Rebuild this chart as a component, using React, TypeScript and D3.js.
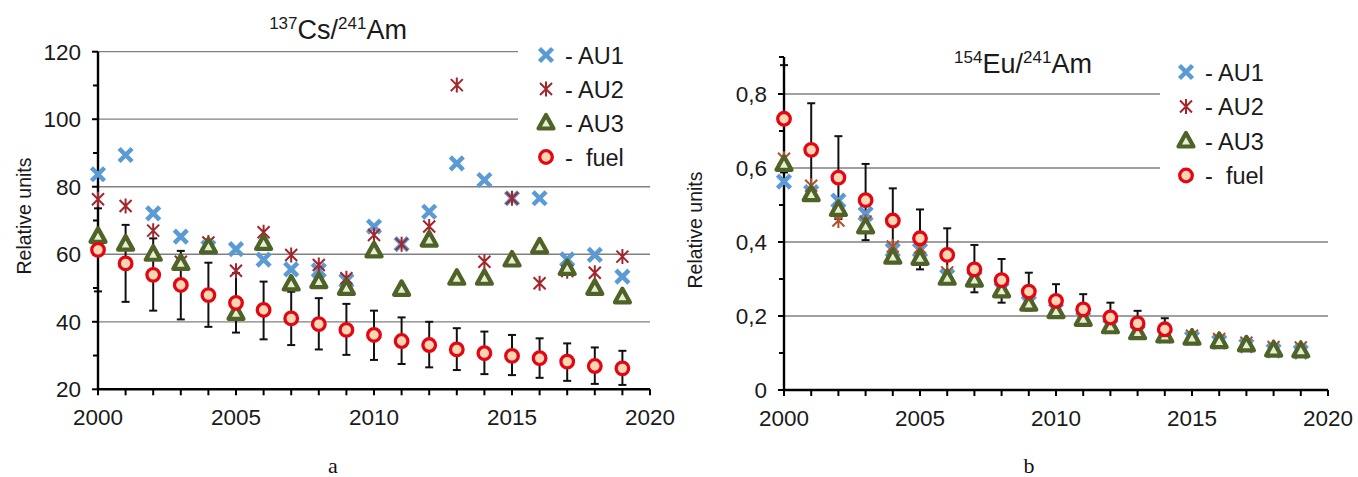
import React from "react";
import * as d3 from "d3";

const years = [2000, 2001, 2002, 2003, 2004, 2005, 2006, 2007, 2008, 2009, 2010, 2011, 2012, 2013, 2014, 2015, 2016, 2017, 2018, 2019];

// Panel a: 137Cs/241Am
const csAU1 = [83.7, 89.4, 72.1, 65.2, 62.0, 61.5, 58.4, 55.5, 55.2, 52.2, 68.2, 63.0, 72.6, 86.9, 82.0, 76.6, 76.6, 58.5, 59.8, 53.4];
const csAU2 = [76.3, 74.3, 67.0, 57.8, 63.5, 55.1, 66.5, 59.8, 56.8, 52.9, 65.7, 63.0, 68.2, 110.1, 57.8, 76.6, 51.4, 55.0, 54.5, 59.3];
const csAU3 = [65.3, 63.0, 60.0, 57.3, 62.2, 42.5, 63.2, 51.2, 51.9, 49.9, 61.0, 49.6, 64.2, 52.9, 52.9, 58.3, 62.2, 55.8, 49.9, 47.4];
const csFuel = [61.3, 57.3, 53.9, 50.9, 47.9, 45.6, 43.5, 41.0, 39.3, 37.6, 36.1, 34.3, 33.1, 31.8, 30.7, 29.9, 29.2, 28.2, 26.9, 26.2];
const csFuelHi = [73.6, 68.7, 64.7, 61.0, 57.5, 54.4, 51.9, 48.9, 47.0, 45.3, 43.3, 41.3, 40.0, 38.1, 37.1, 36.1, 35.1, 33.6, 32.4, 31.4];
const csFuelLo = [49.0, 45.9, 43.3, 40.7, 38.5, 36.8, 34.8, 33.1, 31.8, 30.2, 28.7, 27.5, 26.5, 25.7, 24.5, 24.2, 23.4, 22.5, 21.6, 21.3];
const csMajorTicks = [20, 40, 60, 80, 100, 120];
const csMinorTicks = [30, 50, 70, 90, 110];
const csGridFull = [40, 60, 80];
const csGridShort = [100, 120];

// Panel b: 154Eu/241Am
const euAU1 = [0.563, 0.535, 0.512, 0.476, 0.378, 0.378, 0.308, 0.302, 0.272, 0.236, 0.216, 0.193, 0.172, 0.156, 0.146, 0.140, 0.130, 0.120, 0.106, 0.103];
const euAU2 = [0.625, 0.552, 0.458, 0.455, 0.388, 0.385, 0.318, 0.310, 0.282, 0.245, 0.225, 0.200, 0.180, 0.163, 0.154, 0.147, 0.138, 0.128, 0.116, 0.115];
const euAU3 = [0.610, 0.528, 0.488, 0.441, 0.359, 0.356, 0.302, 0.297, 0.268, 0.232, 0.212, 0.191, 0.171, 0.155, 0.146, 0.140, 0.131, 0.122, 0.108, 0.106];
const euFuel = [0.733, 0.649, 0.574, 0.513, 0.458, 0.410, 0.365, 0.326, 0.297, 0.266, 0.241, 0.218, 0.196, 0.180, 0.164];
const euFuelHi = [0.878, 0.775, 0.686, 0.611, 0.545, 0.488, 0.437, 0.392, 0.354, 0.317, 0.286, 0.259, 0.236, 0.214, 0.194];
const euFuelLo = [0.588, 0.523, 0.462, 0.405, 0.371, 0.326, 0.293, 0.264, 0.236, 0.215, 0.196, 0.177, 0.156, 0.146, 0.131];
const euMajorTicks = [0, 0.2, 0.4, 0.6, 0.8];
const euMinorTicks = [0.1, 0.3, 0.5, 0.7, 0.9];
const euGridFull = [0.2, 0.4];
const euGridShort = [0.6, 0.8];

const xTickLabels = [2000, 2005, 2010, 2015, 2020];
const legendLabels = ["AU1", "AU2", "AU3", " fuel"];

const FONT = "'Liberation Sans', Arial, sans-serif";
const C_AU1 = "#5b9bd5";
const C_AU2 = "#a3262c";
const C_AU2b = "#b0502c";
const C_AU3S = "#4f6228";
const C_AU3F = "#e6efd2";
const C_FUELS = "#e30613";
const C_FUELF = "#fcd5b4";

type Mk = { x: number; y: number; color?: string };

const XMark = ({ x, y, color }: Mk) => (
  <path d={`M${x - 6.5},${y - 6.5}L${x + 6.5},${y + 6.5}M${x - 6.5},${y + 6.5}L${x + 6.5},${y - 6.5}`} stroke={color || C_AU1} strokeWidth={4.5} fill="none" />
);
const Star = ({ x, y, color }: Mk) => (
  <path d={`M${x - 6},${y - 6}L${x + 6},${y + 6}M${x - 6},${y + 6}L${x + 6},${y - 6}M${x},${y - 7.5}L${x},${y + 7.5}`} stroke={color || C_AU2} strokeWidth={2} fill="none" />
);
const Tri = ({ x, y }: Mk) => (
  <path d={`M${x},${y - 8}L${x + 7.5},${y + 5.5}L${x - 7.5},${y + 5.5}Z`} stroke={C_AU3S} strokeWidth={4.2} strokeLinejoin="round" fill={C_AU3F} />
);
const Circ = ({ x, y }: Mk) => (
  <circle cx={x} cy={y} r={6.3} stroke={C_FUELS} strokeWidth={3.3} fill={C_FUELF} />
);

type PanelProps = {
  x0: number; x1: number; yTop: number; yBot: number; yMin: number; yMax: number; axisTop: number;
  au1: number[]; au2: number[]; au3: number[]; fuel: number[]; hi: number[]; lo: number[];
  major: number[]; minor: number[]; gridFull: number[]; gridShort: number[]; gridShortEnd: number;
  fmt: (v: number) => string; au2Color: string;
  legendX: number; legendY: number; legendStep: number; legendRect: [number, number, number, number];
  titleX: number; titleY: number; sup1: string; el1: string; sup2: string; el2: string;
  ylabX: number; ylabY: number; panelLabel: string; panelLabelX: number;
};

function Panel(p: PanelProps) {
  const x = d3.scaleLinear().domain([2000, 2020]).range([p.x0, p.x1]);
  const y = d3.scaleLinear().domain([p.yMin, p.yMax]).range([p.yBot, p.yTop]);
  const yearTicks = d3.range(2000, 2021);
  return (
    <g>
      {p.gridFull.map((v) => (
        <line key={"gf" + v} x1={p.x0} x2={p.x1} y1={y(v)} y2={y(v)} stroke="#808080" strokeWidth={1.3} />
      ))}
      {p.gridShort.map((v) => (
        <line key={"gs" + v} x1={p.x0} x2={p.gridShortEnd} y1={y(v)} y2={y(v)} stroke="#808080" strokeWidth={1.3} />
      ))}
      {p.fuel.map((v, i) => (
        <g key={"eb" + i} stroke="#111" strokeWidth={2}>
          <line x1={x(years[i])} x2={x(years[i])} y1={y(p.hi[i])} y2={y(p.lo[i])} />
          <line x1={x(years[i]) - 4} x2={x(years[i]) + 4} y1={y(p.hi[i])} y2={y(p.hi[i])} />
          <line x1={x(years[i]) - 4} x2={x(years[i]) + 4} y1={y(p.lo[i])} y2={y(p.lo[i])} />
        </g>
      ))}
      <line x1={p.x0} x2={p.x0} y1={y(p.axisTop)} y2={p.yBot} stroke="#000" strokeWidth={2.4} />
      <line x1={p.x0} x2={p.x1} y1={p.yBot} y2={p.yBot} stroke="#000" strokeWidth={2.4} />
      {p.major.map((v) => (
        <line key={"mj" + v} x1={p.x0 - 6} x2={p.x0} y1={y(v)} y2={y(v)} stroke="#000" strokeWidth={2} />
      ))}
      {p.minor.map((v) => (
        <line key={"mn" + v} x1={p.x0 - 5} x2={p.x0} y1={y(v)} y2={y(v)} stroke="#000" strokeWidth={2} />
      ))}
      {yearTicks.map((t) => (
        <line key={"xt" + t} x1={x(t)} x2={x(t)} y1={p.yBot} y2={p.yBot + 6} stroke="#000" strokeWidth={2} />
      ))}
      {p.major.map((v) => (
        <text key={"yl" + v} x={p.x0 - 17} y={y(v) + 8} textAnchor="end" fontFamily={FONT} fontSize={22.5} fill="#1a1a1a">{p.fmt(v)}</text>
      ))}
      {xTickLabels.map((t) => (
        <text key={"xl" + t} x={x(t)} y={p.yBot + 36} textAnchor="middle" fontFamily={FONT} fontSize={22.5} fill="#1a1a1a">{t}</text>
      ))}
      {p.au1.map((v, i) => <XMark key={"a1" + i} x={x(years[i])} y={y(v)} />)}
      {p.au2.map((v, i) => <Star key={"a2" + i} x={x(years[i])} y={y(v)} color={p.au2Color} />)}
      {p.au3.map((v, i) => <Tri key={"a3" + i} x={x(years[i])} y={y(v)} />)}
      {p.fuel.map((v, i) => <Circ key={"fu" + i} x={x(years[i])} y={y(v)} />)}
      <rect x={p.legendRect[0]} y={p.legendRect[1]} width={p.legendRect[2]} height={p.legendRect[3]} fill="#fff" />
      {legendLabels.map((lab, i) => {
        const ly = p.legendY + i * p.legendStep;
        const lx = p.legendX;
        return (
          <g key={"lg" + i}>
            {i === 0 && <XMark x={lx} y={ly} />}
            {i === 1 && <Star x={lx} y={ly} />}
            {i === 2 && <Tri x={lx} y={ly} />}
            {i === 3 && <Circ x={lx} y={ly} />}
            <text x={lx + 19} y={ly + 8.5} fontFamily={FONT} fontSize={23.5} fill="#1a1a1a" style={{ whiteSpace: "pre" }}>{"- " + lab}</text>
          </g>
        );
      })}
      <text x={p.titleX} y={p.titleY} textAnchor="middle" fontFamily={FONT} fill="#1a1a1a">
        <tspan fontSize={17} dy={-10}>{p.sup1}</tspan>
        <tspan fontSize={27} dy={10}>{p.el1}</tspan>
        <tspan fontSize={17} dy={-10}>{p.sup2}</tspan>
        <tspan fontSize={27} dy={10}>{p.el2}</tspan>
      </text>
      <text transform={`translate(${p.ylabX},${p.ylabY}) rotate(-90)`} textAnchor="middle" fontFamily={FONT} fontSize={19.5} fill="#1a1a1a">Relative units</text>
      <text x={p.panelLabelX} y={473} textAnchor="middle" fontFamily="'Liberation Serif', 'Times New Roman', serif" fontSize={22} fill="#111">{p.panelLabel}</text>
    </g>
  );
}

export default function App() {
  return (
    <svg width={1358} height={477} style={{ position: "absolute", left: 0, top: 0, background: "#fff" }}>
      <rect x={0} y={0} width={1358} height={477} fill="#fff" />
      <Panel
        x0={98} x1={650} yTop={51.7} yBot={389.3} yMin={20} yMax={120} axisTop={120}
        au1={csAU1} au2={csAU2} au3={csAU3} fuel={csFuel} hi={csFuelHi} lo={csFuelLo}
        major={csMajorTicks} minor={csMinorTicks} gridFull={csGridFull} gridShort={csGridShort} gridShortEnd={518}
        fmt={(v) => String(v)} au2Color={C_AU2}
        legendX={546} legendY={55} legendStep={34} legendRect={[525, 38, 125, 134]}
        titleX={338} titleY={39} sup1="137" el1="Cs/" sup2="241" el2="Am"
        ylabX={31} ylabY={216} panelLabel="a" panelLabelX={333}
      />
      <Panel
        x0={784} x1={1328} yTop={94} yBot={390} yMin={0} yMax={0.8} axisTop={0.9}
        au1={euAU1} au2={euAU2} au3={euAU3} fuel={euFuel} hi={euFuelHi} lo={euFuelLo}
        major={euMajorTicks} minor={euMinorTicks} gridFull={euGridFull} gridShort={euGridShort} gridShortEnd={1160}
        fmt={(v) => (v === 0 ? "0" : v.toFixed(1).replace(".", ","))} au2Color={C_AU2b}
        legendX={1186} legendY={72} legendStep={34.5} legendRect={[1165, 52, 165, 140]}
        titleX={1023} titleY={73} sup1="154" el1="Eu/" sup2="241" el2="Am"
        ylabX={702} ylabY={230} panelLabel="b" panelLabelX={1029}
      />
    </svg>
  );
}
